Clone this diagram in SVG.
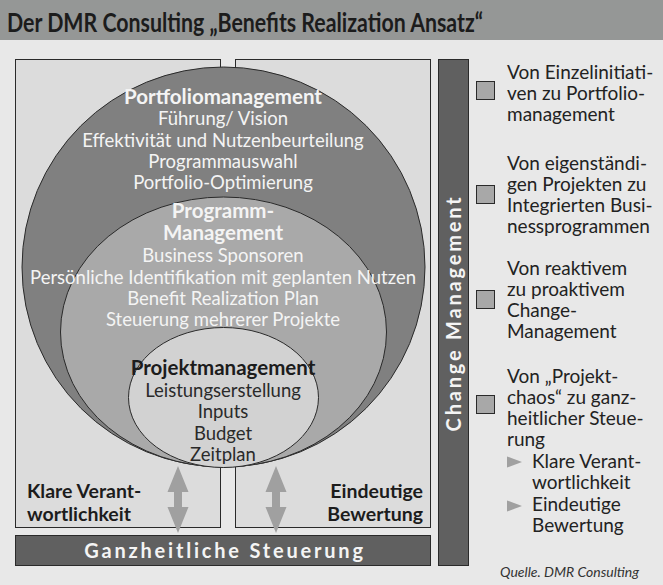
<svg xmlns="http://www.w3.org/2000/svg" width="663" height="585" viewBox="0 0 663 585">
  <style>
    text { font-family: Lato, "Liberation Sans", sans-serif; }
    .title { font-size: 26px; font-weight: bold; fill: #1c1c1c; }
    .box { fill: #dcdcdc; stroke: #2a2a2a; stroke-width: 1; }
    .bar { fill: #606060; stroke: #2a2a2a; stroke-width: 1; }
    .ring { stroke: #2a2a2a; stroke-width: 1; }
    .head-w { font-size: 20.5px; font-weight: bold; fill: #f4f4f4; text-anchor: middle; }
    .line-w { font-size: 18.5px; fill: #f4f4f4; text-anchor: middle; }
    .head-d { font-size: 20.5px; font-weight: bold; fill: #1c1c1c; text-anchor: middle; }
    .line-d { font-size: 18.5px; fill: #2a2a2a; text-anchor: middle; }
    .side { font-size: 19.5px; font-weight: bold; fill: #1c1c1c; }
    .band { font-size: 20px; font-weight: bold; fill: #f4f4f4; letter-spacing: 2.8px; }
    .note { font-size: 19px; fill: #222; }
    .chk { fill: #a8a8a8; stroke: #2a2a2a; stroke-width: 1; }
    .tri { fill: #a0a0a0; }
    .arrow { fill: #a0a0a0; }
    .src { font-size: 14px; font-style: italic; fill: #333; }
  </style>

  <!-- page background and title band -->
  <rect x="0" y="0" width="663" height="585" fill="#e8e8e8"/>
  <g id="title">
    <rect x="0" y="0" width="663" height="40" fill="#959796"/>
    <text class="title" x="7" y="32" textLength="476" lengthAdjust="spacingAndGlyphs">Der DMR Consulting „Benefits Realization Ansatz“</text>
  </g>

  <!-- two framing panels -->
  <g id="panel-left">
    <rect class="box" x="15.5" y="59.5" width="205" height="468"/>
    <text class="side" x="27" y="498">Klare Verant-</text>
    <text class="side" x="27" y="521">wortlichkeit</text>
  </g>
  <g id="panel-right">
    <rect class="box" x="235.5" y="59.5" width="195" height="468"/>
    <text class="side" x="423" y="498" text-anchor="end">Eindeutige</text>
    <text class="side" x="423" y="521" text-anchor="end">Bewertung</text>
  </g>

  <!-- nested management levels -->
  <g id="portfolio">
    <ellipse class="ring" cx="223.5" cy="267" rx="201.5" ry="200" fill="#808080"/>
    <text class="head-w" x="223" y="104">Portfoliomanagement</text>
    <text class="line-w" x="223" y="125">Führung/ Vision</text>
    <text class="line-w" x="223" y="147">Effektivität und Nutzenbeurteilung</text>
    <text class="line-w" x="223" y="168">Programmauswahl</text>
    <text class="line-w" x="223" y="189">Portfolio-Optimierung</text>
  </g>
  <g id="programm">
    <ellipse class="ring" cx="223.5" cy="332" rx="163" ry="135" fill="#a9a9a9"/>
    <text class="head-w" x="223" y="218">Programm-</text>
    <text class="head-w" x="223" y="240">Management</text>
    <text class="line-w" x="223" y="262">Business Sponsoren</text>
    <text class="line-w" x="223" y="284">Persönliche Identifikation mit geplanten Nutzen</text>
    <text class="line-w" x="223" y="305">Benefit Realization Plan</text>
    <text class="line-w" x="223" y="326">Steuerung mehrerer Projekte</text>
  </g>
  <g id="projekt">
    <ellipse class="ring" cx="223.5" cy="397.5" rx="95" ry="70" fill="#d2d2d2"/>
    <text class="head-d" x="223" y="375">Projektmanagement</text>
    <text class="line-d" x="223" y="397">Leistungserstellung</text>
    <text class="line-d" x="223" y="418">Inputs</text>
    <text class="line-d" x="223" y="440">Budget</text>
    <text class="line-d" x="223" y="461">Zeitplan</text>
  </g>

  <!-- double-headed links between levels and governance band -->
  <g id="connectors">
    <path class="arrow" d="M178 466 L188.5 492 L182 492 L182 507 L188.5 507 L178 533 L167.5 507 L174 507 L174 492 L167.5 492 Z"/>
    <path class="arrow" d="M276 466 L286.5 492 L280 492 L280 507 L286.5 507 L276 533 L265.5 507 L272 507 L272 492 L265.5 492 Z"/>
  </g>

  <g id="steuerung">
    <rect class="bar" x="15.5" y="535.5" width="415" height="30"/>
    <text class="band" x="225" y="558" text-anchor="middle">Ganzheitliche Steuerung</text>
  </g>

  <g id="change-management">
    <rect class="bar" x="438.5" y="59.5" width="30" height="506"/>
    <text class="band" transform="translate(461 313) rotate(-90)" text-anchor="middle">Change Management</text>
  </g>

  <!-- list of shifts -->
  <g id="shift-1">
    <rect class="chk" x="476.5" y="81.5" width="18" height="18"/>
    <text class="note" x="507" y="79">Von Einzelinitiati-</text>
    <text class="note" x="507" y="100">ven zu Portfolio-</text>
    <text class="note" x="507" y="121">management</text>
  </g>
  <g id="shift-2">
    <rect class="chk" x="476.5" y="185.5" width="18" height="18"/>
    <text class="note" x="507" y="170">Von eigenständi-</text>
    <text class="note" x="507" y="191">gen Projekten zu</text>
    <text class="note" x="507" y="212">Integrierten Busi-</text>
    <text class="note" x="507" y="233">nessprogrammen</text>
  </g>
  <g id="shift-3">
    <rect class="chk" x="476.5" y="290.5" width="18" height="18"/>
    <text class="note" x="507" y="275">Von reaktivem</text>
    <text class="note" x="507" y="296">zu proaktivem</text>
    <text class="note" x="507" y="317">Change-</text>
    <text class="note" x="507" y="338">Management</text>
  </g>
  <g id="shift-4">
    <rect class="chk" x="476.5" y="395.5" width="18" height="18"/>
    <text class="note" x="507" y="383">Von „Projekt-</text>
    <text class="note" x="507" y="404">chaos“ zu ganz-</text>
    <text class="note" x="507" y="425">heitlicher Steue-</text>
    <text class="note" x="507" y="446">rung</text>
    <path class="tri" d="M507 456.5 L522 462 L507 467.5 Z"/>
    <text class="note" x="532" y="468">Klare Verant-</text>
    <text class="note" x="532" y="489">wortlichkeit</text>
    <path class="tri" d="M507 500.5 L522 506 L507 511.5 Z"/>
    <text class="note" x="532" y="511">Eindeutige</text>
    <text class="note" x="532" y="532">Bewertung</text>
  </g>

  <text class="src" x="500" y="577">Quelle. DMR Consulting</text>
</svg>
